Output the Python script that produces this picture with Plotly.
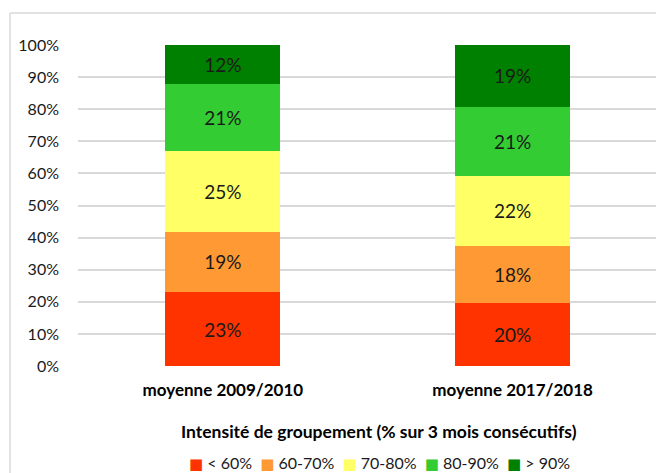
import plotly.graph_objects as go

categories = ["moyenne 2009/2010", "moyenne 2017/2018"]
series_names = ["< 60%", "60-70%", "70-80%", "80-90%", "> 90%"]
lt60 = [23.0, 19.6]
p60_70 = [18.9, 17.8]
p70_80 = [25.0, 21.9]
p80_90 = [20.8, 21.4]
gt90 = [12.3, 19.3]
colors = ["#FF3300", "#FF9933", "#FFFF66", "#33CC33", "#008000"]
y_ticks = [0, 10, 20, 30, 40, 50, 60, 70, 80, 90, 100]
y_tick_labels = [f"{t}%" for t in y_ticks]
x_title = "Intensité de groupement (% sur 3 mois consécutifs)"

FONT = "Lato"
W, H = 656, 473
PL, PR, PT, PB = 78, 657.5, 45, 366  # plot area in pixels

fig = go.Figure()
for name, vals, col in zip(series_names, [lt60, p60_70, p70_80, p80_90, gt90], colors):
    fig.add_trace(go.Bar(
        x=categories, y=vals, name=name, marker=dict(color=col, line=dict(width=0)),
        text=[f"{round(v)}%" for v in vals], textposition="inside",
        insidetextanchor="middle", textangle=0,
        textfont=dict(family=FONT, size=19, color="#1a1a1a"),
        hoverinfo="skip", showlegend=False,
    ))

legend_text = " &#8197;".join(
    f"<span style='color:{c};font-family:DejaVu Sans;font-size:15px'>■</span> {n}"
    for n, c in zip(series_names, colors)
)

fig.update_layout(
    width=W, height=H,
    margin=dict(l=0, r=0, t=0, b=0, pad=0),
    barmode="stack", bargap=0.603,
    plot_bgcolor="white", paper_bgcolor="white",
    font=dict(family=FONT, size=16, color="#1a1a1a"),
    showlegend=False,
    xaxis=dict(domain=[PL / W, min(PR / W, 1.0)], range=[-0.5, 1.5 - (PR - W) / 290],
               showgrid=False, showline=False, zeroline=False, ticks="", automargin=False,
               ticklabelstandoff=12, fixedrange=True,
               tickfont=dict(family=FONT, size=17, color="#000000", weight="bold")),
    yaxis=dict(domain=[1 - PB / H, 1 - PT / H], range=[0, 100], tickvals=y_ticks,
               ticktext=y_tick_labels, automargin=False, fixedrange=True,
               showgrid=True, gridcolor="#D9D9D9", gridwidth=1.5, zeroline=False, showline=False,
               ticks="", ticklabelstandoff=18,
               tickfont=dict(family=FONT, size=16, color="#1a1a1a")),
    annotations=[
        dict(text=x_title, xref="paper", yref="paper", x=379 / W, y=1 - 431 / H,
             xanchor="center", yanchor="middle", showarrow=False,
             font=dict(family=FONT, size=17.5, color="#000000", weight="bold")),
        dict(text=legend_text, xref="paper", yref="paper", x=379 / W, y=1 - 463 / H,
             xanchor="center", yanchor="middle", showarrow=False,
             font=dict(family=FONT, size=16, color="#1a1a1a")),
    ],
    shapes=[
        dict(type="line", xref="paper", yref="paper", x0=10 / W, x1=10 / W, y0=-0.1, y1=1 - 13 / H,
             line=dict(color="#D9D9D9", width=1.5)),
        dict(type="line", xref="paper", yref="paper", x0=10 / W, x1=1.1, y0=1 - 13 / H, y1=1 - 13 / H,
             line=dict(color="#D9D9D9", width=1.5)),
    ],
)

fig.write_html("out.html", config={"displayModeBar": False},
               post_script="document.body.style.margin='0';document.body.style.overflow='hidden';")
